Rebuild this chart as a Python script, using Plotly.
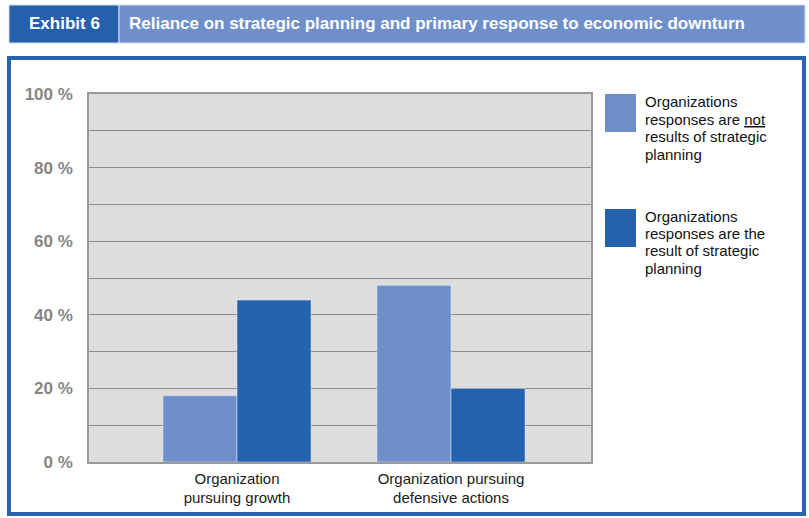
import plotly.graph_objects as go

# Data
categories = ["Organization<br>pursuing growth", "Organization pursuing<br>defensive actions"]
not_strategic = [18, 48]
strategic = [44, 20]
series_lines = [
    ["Organizations", "responses are <u>not</u>", "results of strategic", "planning"],
    ["Organizations", "responses are the", "result of strategic", "planning"],
]
y_ticks = list(range(0, 101, 10))
y_labels = [f"{v} %" if v % 20 == 0 else "" for v in y_ticks]

LIGHT = "#6f8fca"
DARK = "#2462ae"
FRAME = "#2a63b1"
FONT = "Liberation Sans, Arial"

W, H = 809, 518
L, R, T, B = 89, 591, 94, 462  # plot area in pixels


def px(x):
    return (x - L) / (R - L)


def py(y):
    return (B - y) / (B - T)


fig = go.Figure()
fig.add_trace(go.Bar(x=[0, 1], y=not_strategic, marker_color=LIGHT, name="not", showlegend=False))
fig.add_trace(go.Bar(x=[0, 1], y=strategic, marker_color=DARK, name="strategic", showlegend=False))

shapes = [
    # outer frame
    dict(type="rect", xref="paper", yref="paper", x0=px(9), x1=px(804), y0=py(58), y1=py(514),
         line=dict(color=FRAME, width=4), fillcolor="rgba(0,0,0,0)", layer="below"),
    # header boxes
    dict(type="rect", xref="paper", yref="paper", x0=px(9), x1=px(119), y0=py(5), y1=py(43),
         line=dict(color="#d6deeb", width=1), fillcolor="#2560ac", layer="below"),
    dict(type="rect", xref="paper", yref="paper", x0=px(119), x1=px(805), y0=py(5), y1=py(43),
         line=dict(color="#d6deeb", width=1), fillcolor="#6f8fcb", layer="below"),
    # legend swatches
    dict(type="rect", xref="paper", yref="paper", x0=px(605), x1=px(636), y0=py(94), y1=py(132),
         line=dict(width=0), fillcolor=LIGHT),
    dict(type="rect", xref="paper", yref="paper", x0=px(605), x1=px(636), y0=py(209), y1=py(247),
         line=dict(width=0), fillcolor=DARK),
]

annotations = [
    dict(text="<b>Exhibit 6</b>", xref="paper", yref="paper", x=px(64), y=py(24),
         xanchor="center", yanchor="middle", showarrow=False,
         font=dict(family=FONT, size=17, color="white")),
    dict(text="<b>Reliance on strategic planning and primary response to economic downturn</b>",
         xref="paper", yref="paper", x=px(127), y=py(24), xanchor="left", yanchor="middle",
         showarrow=False, font=dict(family=FONT, size=17, color="white")),
]

# legend text, one line per annotation for tight line spacing
for lines, top in zip(series_lines, [101.7, 216.0]):
    for i, line in enumerate(lines):
        annotations.append(dict(
            text=line, xref="paper", yref="paper", x=px(643), y=py(top + i * 17.5),
            xanchor="left", yanchor="middle", align="left", showarrow=False,
            font=dict(family=FONT, size=15, color="#111"),
        ))

fig.update_layout(
    width=W, height=H, autosize=False,
    margin=dict(l=L, r=W - R, t=T, b=H - B, pad=0),
    paper_bgcolor="white", plot_bgcolor="#dddddd",
    barmode="group", bargap=0.308, bargroupgap=0,
    shapes=shapes, annotations=annotations,
    font=dict(family=FONT),
)
fig.update_xaxes(
    range=[-148 / 214, 1 + 140 / 214], tickvals=[0, 1], ticktext=categories,
    showgrid=False, zeroline=False, showline=True, mirror=True,
    linecolor="#9a9a9a", linewidth=1.5, ticks="", ticklabelstandoff=2,
    tickfont=dict(size=15, color="#1a1a1a"), fixedrange=True,
)
fig.update_yaxes(
    range=[0, 100], tickvals=y_ticks, ticktext=y_labels,
    showgrid=True, gridcolor="#8c8c8c", gridwidth=1.3, zeroline=False,
    showline=True, mirror=True, linecolor="#9a9a9a", linewidth=1.5,
    ticks="", ticklabelstandoff=11,
    tickfont=dict(size=17, color="#858585", weight="bold"), fixedrange=True,
)

fig.write_html("out.html", config={"displayModeBar": False})
